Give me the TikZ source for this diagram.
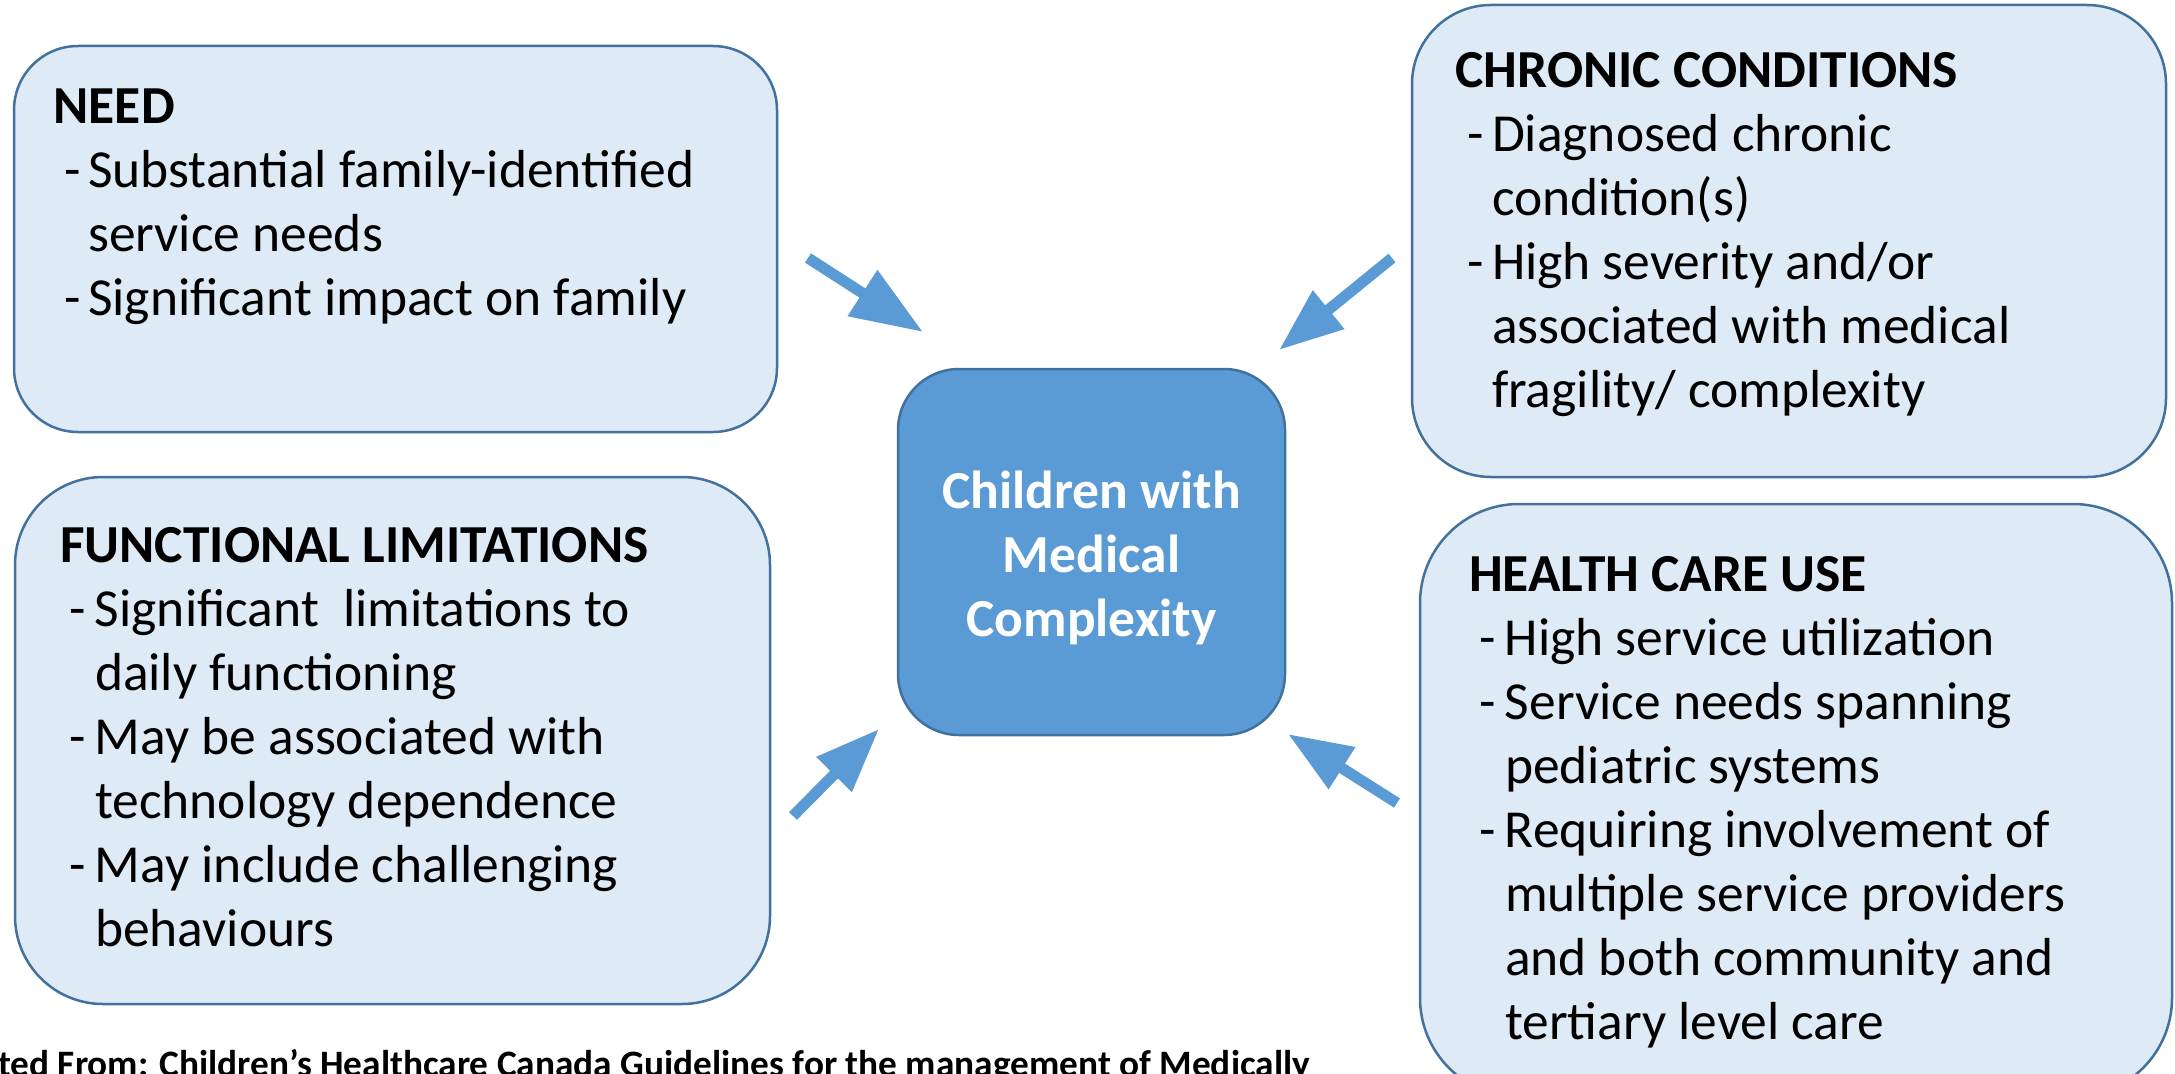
\documentclass[tikz,border=0pt]{standalone}
\usepackage{fontspec}
\setmainfont{Carlito}
\usetikzlibrary{arrows.meta}

\definecolor{boxfill}{HTML}{DEEAF6}
\definecolor{boxline}{HTML}{41719C}
\definecolor{accent}{HTML}{5B9BD5}

% hanging bullet lines: dash indent and text indent
\newlength\dashin
\newlength\textin
\newcommand\setindents[2]{\setlength\dashin{#1}\setlength\textin{#2}}
\newcommand\bul[1]{\hspace*{\dashin}\makebox[\dimexpr\textin-\dashin\relax][l]{-}#1}
\newcommand\cont[1]{\hspace*{\textin}#1}

\tikzset{
  panel/.style={draw=boxline, line width=2.5pt, fill=boxfill, inner sep=0pt, outer sep=0pt},
  core/.style={draw=boxline, line width=2.5pt, fill=accent, inner sep=0pt, outer sep=0pt},
  body/.style={inner sep=0pt, outer sep=0pt, anchor=base west, font=\fontsize{53.5}{64}\selectfont},
  feed/.style={line width=11pt, draw=accent, -{Triangle[width=47pt,length=64pt]}},
  bigfeed/.style={feed, -{Triangle[width=52pt,length=72pt]}},
}

\begin{document}
\begin{tikzpicture}[x=1pt, y=-1pt]
\useasboundingbox (0,0) rectangle (2175,1073);
\clip (0,0) rectangle (2175,1073);

% category panels
\node[panel, rounded corners=64pt, minimum width=763pt, minimum height=386pt] (need) at (395.5,239) {};
\node[panel, rounded corners=88pt, minimum width=755pt, minimum height=527pt] (func) at (392.5,740.5) {};
\node[panel, rounded corners=79pt, minimum width=754pt, minimum height=472pt] (chronic) at (1789,241) {};
\node[panel, rounded corners=99pt, minimum width=752pt, minimum height=593pt] (care) at (1796,800.5) {};

% central panel
\node[core, rounded corners=61pt, minimum width=387pt, minimum height=366pt] (cmc) at (1091.5,552) {};

% panel texts
\node[body] (needtext) at (53.6,123) {\setindents{10.5pt}{34.5pt}%
  \begin{tabular}[t]{@{}l@{}}
  \textbf{NEED}\\
  \bul{Substantial family-identified}\\
  \cont{service needs}\\
  \bul{Significant impact on family}
  \end{tabular}};

\node[body] (functext) at (60,562) {\setindents{9pt}{35pt}%
  \begin{tabular}[t]{@{}l@{}}
  \textbf{FUNCTIONAL LIMITATIONS}\\
  \bul{Significant\ \ limitations to}\\
  \cont{daily functioning}\\
  \bul{May be associated with}\\
  \cont{technology dependence}\\
  \bul{May include challenging}\\
  \cont{behaviours}
  \end{tabular}};

\node[body] (chronictext) at (1455.5,87) {\setindents{11.5pt}{36.5pt}%
  \begin{tabular}[t]{@{}l@{}}
  \textbf{CHRONIC CONDITIONS}\\
  \bul{Diagnosed chronic}\\
  \cont{condition(s)}\\
  \bul{High severity and/or}\\
  \cont{associated with medical}\\
  \cont{fragility/ complexity}
  \end{tabular}};

\node[body] (caretext) at (1469,591) {\setindents{10pt}{36pt}%
  \begin{tabular}[t]{@{}l@{}}
  \textbf{HEALTH CARE USE}\\
  \bul{High service utilization}\\
  \bul{Service needs spanning}\\
  \cont{pediatric systems}\\
  \bul{Requiring involvement of}\\
  \cont{multiple service providers}\\
  \cont{and both community and}\\
  \cont{tertiary level care}
  \end{tabular}};

\node[body, anchor=base, text=white] (cmctext) at (1091.5,508) {%
  \begin{tabular}[t]{@{}c@{}}
  \textbf{Children with}\\
  \textbf{Medical}\\
  \textbf{Complexity}
  \end{tabular}};

% arrows into the central panel
\coordinate (need-tail) at (808,258);   \coordinate (need-tip) at (923,332);
\coordinate (chr-tail) at (1392,258);   \coordinate (chr-tip) at (1279,350);
\coordinate (func-tail) at (793,816);   \coordinate (func-tip) at (879,729);
\coordinate (care-tail) at (1397,803);  \coordinate (care-tip) at (1288,734);
\draw[bigfeed] (need-tail) -- (need-tip);
\draw[feed] (chr-tail) -- (chr-tip);
\draw[feed] (func-tail) -- (func-tip);
\draw[feed] (care-tail) -- (care-tip);

% source line, running off the lower left edge
\node[inner sep=0pt, anchor=base east, font=\bfseries\fontsize{37.3}{44}\selectfont] (source) at (1310,1076)
  {Adapted From: Children’s Healthcare Canada Guidelines for the management of Medically};
\end{tikzpicture}
\end{document}
